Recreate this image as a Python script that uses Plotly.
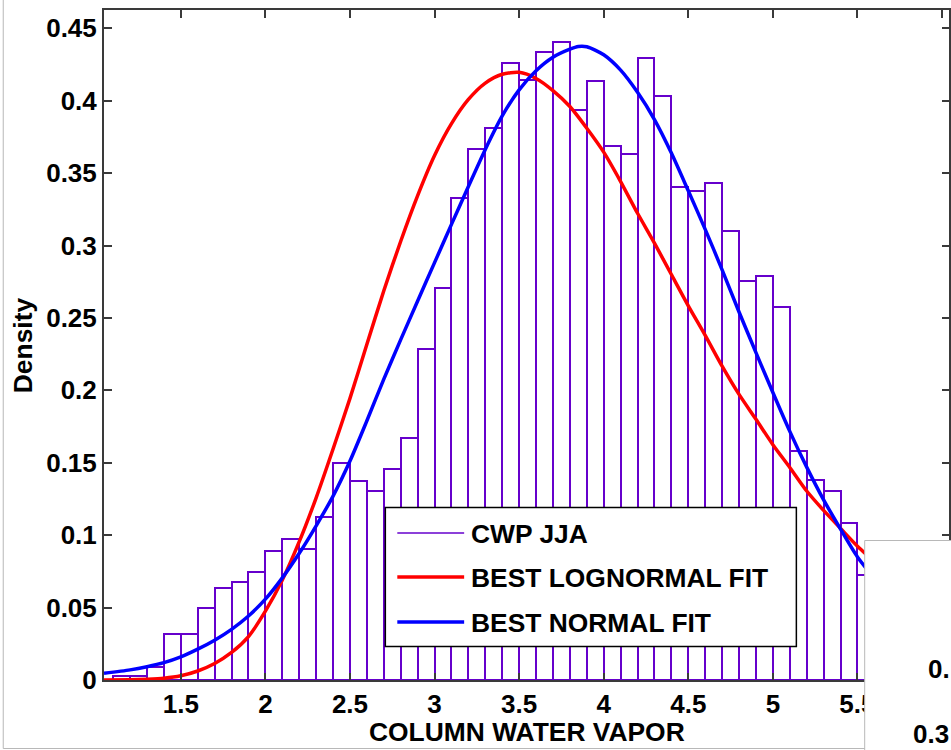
import plotly.graph_objects as go

# ---- histogram of column water vapor (JJA), density-normalised, 0.1-wide bins
bin_centers = [1.15, 1.25, 1.35, 1.45, 1.55, 1.65, 1.75, 1.85, 1.95, 2.05,
               2.15, 2.25, 2.35, 2.45, 2.55, 2.65, 2.75, 2.85, 2.95, 3.05,
               3.15, 3.25, 3.35, 3.45, 3.55, 3.65, 3.75, 3.85, 3.95, 4.05,
               4.15, 4.25, 4.35, 4.45, 4.55, 4.65, 4.75, 4.85, 4.95, 5.05,
               5.15, 5.25, 5.35, 5.45, 5.55]
density = [0.0028, 0.0028, 0.0092, 0.0318, 0.0318, 0.0499, 0.0633, 0.0679, 0.0748, 0.0893,
           0.0974, 0.0902, 0.1123, 0.1496, 0.1377, 0.1308, 0.1455, 0.1669, 0.2284, 0.2705,
           0.3331, 0.3667, 0.3810, 0.4259, 0.4144, 0.4335, 0.4408, 0.3936, 0.4137, 0.3690,
           0.3633, 0.4293, 0.4035, 0.3402, 0.3377, 0.3430, 0.3103, 0.2758, 0.2790, 0.2574,
           0.1584, 0.1381, 0.1305, 0.1082, 0.0725]

# ---- best lognormal fit curve
logn_x = [1.046, 1.2, 1.3, 1.4, 1.5, 1.6, 1.7, 1.8, 1.9, 2.0,
          2.1, 2.2, 2.3, 2.4, 2.5, 2.6, 2.7, 2.8, 2.9, 3.0,
          3.1, 3.2, 3.3, 3.4, 3.5, 3.6, 3.7, 3.8, 3.9, 4.0,
          4.1, 4.2, 4.3, 4.4, 4.5, 4.6, 4.7, 4.8, 4.9, 5.0,
          5.1, 5.2, 5.3, 5.4, 5.5, 5.65]
logn_y = [0.0000, 0.0001, 0.0005, 0.0012, 0.0029, 0.0062, 0.0114, 0.0190, 0.0300, 0.0475,
          0.0690, 0.0955, 0.1258, 0.1595, 0.1945, 0.2318, 0.2688, 0.3030, 0.3345, 0.3622,
          0.3842, 0.4009, 0.4122, 0.4183, 0.4196, 0.4154, 0.4070, 0.3960, 0.3810, 0.3645,
          0.3442, 0.3223, 0.3017, 0.2800, 0.2584, 0.2380, 0.2167, 0.1972, 0.1800, 0.1625,
          0.1468, 0.1305, 0.1171, 0.1047, 0.0924, 0.0765]

# ---- best normal fit curve
norm_x = [1.046, 1.2, 1.3, 1.4, 1.5, 1.6, 1.7, 1.8, 1.9, 2.0,
          2.1, 2.2, 2.3, 2.4, 2.5, 2.6, 2.7, 2.8, 2.9, 3.0,
          3.1, 3.2, 3.3, 3.4, 3.5, 3.6, 3.7, 3.8, 3.85, 3.9,
          4.0, 4.1, 4.2, 4.3, 4.4, 4.5, 4.6, 4.7, 4.8, 4.9,
          5.0, 5.1, 5.2, 5.3, 5.4, 5.5, 5.65]
norm_y = [0.0046, 0.0070, 0.0092, 0.0120, 0.0160, 0.0213, 0.0275, 0.0350, 0.0442, 0.0558,
          0.0705, 0.0875, 0.1065, 0.1270, 0.1512, 0.1790, 0.2078, 0.2350, 0.2617, 0.2882,
          0.3146, 0.3408, 0.3664, 0.3895, 0.4075, 0.4207, 0.4300, 0.4356, 0.4375, 0.4373,
          0.4317, 0.4211, 0.4058, 0.3870, 0.3639, 0.3378, 0.3112, 0.2832, 0.2541, 0.2261,
          0.1985, 0.1717, 0.1470, 0.1244, 0.1042, 0.0850, 0.0633]

x_tick_vals = [1.5, 2, 2.5, 3, 3.5, 4, 4.5, 5, 5.5, 6]
x_tick_text = ["1.5", "2", "2.5", "3", "3.5", "4", "4.5", "5", "5.5", "6"]
y_tick_vals = [0, 0.05, 0.1, 0.15, 0.2, 0.25, 0.3, 0.35, 0.4, 0.45]
y_tick_text = ["0", "0.05", "0.1", "0.15", "0.2", "0.25", "0.3", "0.35", "0.4", "0.45"]

legend_labels = ["CWP JJA", "BEST LOGNORMAL FIT", "BEST NORMAL FIT"]

PURPLE = "#6600CC"
RED = "#FF0000"
BLUE = "#0000FF"
AXIS = "#3a3a3a"
FRAME = "#b8b8b8"
FAMILY = "Liberation Sans, Arial, sans-serif"
TICK_FONT = dict(family=FAMILY, size=26, color="black", weight="bold")
TEXT_FONT = dict(family=FAMILY, size=26.4, color="black", weight="bold")

W, H = 951, 750
L, R, T, B = 104, 0, 10, 70
PW, PH = W - L - R, H - T - B


def px(xp):
    return (xp - L) / PW


def py(yp):
    return (H - B - yp) / PH


fig = go.Figure()
fig.add_trace(go.Bar(
    x=bin_centers, y=density, width=0.1,
    marker=dict(color="white", line=dict(color=PURPLE, width=2)),
    name=legend_labels[0],
))
fig.add_trace(go.Scatter(
    x=logn_x, y=logn_y, mode="lines", name=legend_labels[1],
    line=dict(color=RED, width=3.5, shape="spline", smoothing=0.7),
))
fig.add_trace(go.Scatter(
    x=norm_x, y=norm_y, mode="lines", name=legend_labels[2],
    line=dict(color=BLUE, width=3.5, shape="spline", smoothing=0.7),
))

axis_common = dict(
    showgrid=False, zeroline=False, showline=True, linecolor=AXIS, linewidth=2,
    mirror="ticks", ticks="inside", ticklen=7.5, tickwidth=1.5, tickcolor=AXIS,
    tickfont=TICK_FONT,
)
fig.update_xaxes(range=[1.0459, 6.0412], tickvals=x_tick_vals, ticktext=x_tick_text,
                 **axis_common)
fig.update_yaxes(range=[0, 0.46265], tickvals=y_tick_vals, ticktext=y_tick_text,
                 **axis_common)

shapes = []
annotations = []

# outer figure frame (left and bottom edges)
shapes.append(dict(type="line", xref="paper", yref="paper", layer="above",
                   x0=px(3), x1=px(3), y0=py(-5), y1=py(748.5),
                   line=dict(color=FRAME, width=1)))
shapes.append(dict(type="line", xref="paper", yref="paper", layer="above",
                   x0=px(3), x1=px(960), y0=py(748.5), y1=py(748.5),
                   line=dict(color=FRAME, width=1)))

# legend box
shapes.append(dict(type="rect", xref="paper", yref="paper", layer="above",
                   x0=px(386), x1=px(798), y0=py(507.5), y1=py(646.5),
                   fillcolor="white", line=dict(color="black", width=1.5)))
legend_rows = [(533, PURPLE, 1.5), (577, RED, 3.5), (622, BLUE, 3.5)]
for (yrow, col, lw), label in zip(legend_rows, legend_labels):
    shapes.append(dict(type="line", xref="paper", yref="paper", layer="above",
                       x0=px(398), x1=px(465), y0=py(yrow), y1=py(yrow),
                       line=dict(color=col, width=lw)))
    annotations.append(dict(text=label, xref="paper", yref="paper", showarrow=False,
                            x=px(470), y=py(yrow + 1), xanchor="left", yanchor="middle",
                            font=TEXT_FONT))

# axis titles
annotations.append(dict(text="COLUMN WATER VAPOR", xref="paper", yref="paper",
                        showarrow=False, x=0.5, y=py(731.5), xanchor="center",
                        yanchor="middle", font=TEXT_FONT))
annotations.append(dict(text="Density", xref="paper", yref="paper", showarrow=False,
                        x=px(23), y=py(345), xanchor="center", yanchor="middle",
                        textangle=-90, font=TEXT_FONT))

# neighbouring panel overlapping the lower-right corner
shapes.append(dict(type="rect", xref="paper", yref="paper", layer="above",
                   x0=px(866.5), x1=px(970), y0=py(540.5), y1=py(770),
                   fillcolor="white", line=dict(color=FRAME, width=1)))
annotations.append(dict(text="0.", xref="paper", yref="paper", showarrow=False,
                        x=px(954), y=py(669), xanchor="right", yanchor="middle",
                        font=TICK_FONT))
annotations.append(dict(text="0.3", xref="paper", yref="paper", showarrow=False,
                        x=px(913), y=py(734), xanchor="left", yanchor="middle",
                        font=TICK_FONT))

fig.update_layout(
    width=W, height=H,
    margin=dict(l=L, r=R, t=T, b=B, pad=0),
    paper_bgcolor="white", plot_bgcolor="white",
    showlegend=False, bargap=0,
    shapes=shapes, annotations=annotations,
    font=TEXT_FONT,
)

fig.write_html("out.html")
